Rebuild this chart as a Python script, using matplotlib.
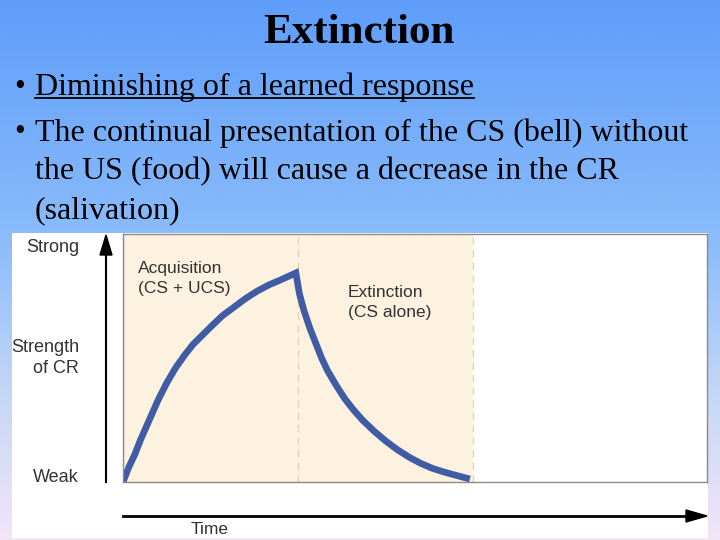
import numpy as np
import matplotlib
matplotlib.use('Agg')
import matplotlib.pyplot as plt
from matplotlib.patches import Rectangle
from matplotlib.colors import LinearSegmentedColormap

# curve (time 0-10, strength 0-1)
acq_time = [0.0, 0.05, 0.1, 0.2, 0.3, 0.45, 0.6, 0.75, 0.9, 1.05, 1.2, 1.35,
            1.5, 1.7, 1.9, 2.1, 2.3, 2.5, 2.7, 2.96]
acq_strength = [0.0, 0.03, 0.06, 0.11, 0.17, 0.25, 0.33, 0.40, 0.46, 0.51, 0.555, 0.59,
                0.625, 0.67, 0.705, 0.74, 0.77, 0.795, 0.815, 0.843]
ext_time = [2.96, 3.02, 3.1, 3.2, 3.3, 3.4, 3.5, 3.65, 3.8, 3.95, 4.1, 4.3,
            4.5, 4.7, 4.9, 5.1, 5.3, 5.5, 5.7, 5.94]
ext_strength = [0.843, 0.76, 0.69, 0.62, 0.56, 0.50, 0.45, 0.39, 0.335, 0.29, 0.25, 0.205,
                0.165, 0.13, 0.10, 0.075, 0.055, 0.04, 0.027, 0.012]
phase_edges = [0, 3, 6]
phase_names = ['Acquisition\n(CS + UCS)', 'Extinction\n(CS alone)']

W, H = 720, 540
fig = plt.figure(figsize=(7.2, 5.4), dpi=100)


def fx(px):
    return px / W


def fy(py):
    return 1 - py / H


# slide background gradient
bg = fig.add_axes([0, 0, 1, 1], zorder=-10)
cmap = LinearSegmentedColormap.from_list(
    'slide', [(0.0, '#5f9dfa'), (0.45, '#8cbdfa'), (0.75, '#c8d8f6'), (1.0, '#f3e5f8')])
bg.imshow(np.linspace(0, 1, 256).reshape(-1, 1), aspect='auto', cmap=cmap,
          extent=[0, 1, 0, 1], origin='upper')
bg.set_xlim(0, 1)
bg.set_ylim(0, 1)
bg.axis('off')

# white picture panel
fig.add_artist(Rectangle((fx(12), fy(538)), fx(708) - fx(12), fy(233) - fy(538),
                         transform=fig.transFigure, facecolor='white', edgecolor='none', zorder=-5))

# title and bullets
serif = 'Liberation Serif'
fig.text(fx(359), fy(33), 'Extinction', ha='center', va='center', family=serif,
         fontsize=31, fontweight='bold')
bullet_y = [87, 133, 172, 211]
fig.text(fx(14), fy(bullet_y[0]), '•', ha='left', va='center', family=serif, fontsize=22)
t1 = fig.text(fx(35), fy(bullet_y[0]), 'Diminishing of a learned response', ha='left', va='center',
              family=serif, fontsize=23)
fig.text(fx(14), fy(bullet_y[1]), '•', ha='left', va='center', family=serif, fontsize=22)
fig.text(fx(35), fy(bullet_y[1]), 'The continual presentation of the CS (bell) without',
         ha='left', va='center', family=serif, fontsize=23)
fig.text(fx(35), fy(bullet_y[2]), 'the US (food) will cause a decrease in the CR',
         ha='left', va='center', family=serif, fontsize=23)
fig.text(fx(35), fy(bullet_y[3]), '(salivation)', ha='left', va='center', family=serif, fontsize=23)

# underline for first bullet
fig.canvas.draw()
bb = t1.get_window_extent()
fig.add_artist(plt.Line2D([bb.x0 / W, bb.x1 / W], [fy(98), fy(98)],
                          transform=fig.transFigure, color='black', lw=1.3))

# chart
ax = fig.add_axes([fx(123), fy(482), fx(707) - fx(123), fy(234) - fy(482)])
ax.set_xlim(0, 10)
ax.set_ylim(0, 1)
for i in range(len(phase_edges) - 1):
    ax.axvspan(phase_edges[i], phase_edges[i + 1], color='#fdf1df', lw=0)
for e in phase_edges[1:]:
    ax.axvline(e, color='#e6d2ae', lw=0.9, ls=(0, (6, 4)))
ax.plot(acq_time + ext_time[1:], acq_strength + ext_strength[1:],
        color='#3f5ca4', lw=4.8, solid_capstyle='butt', solid_joinstyle='miter')
ax.set_xticks([])
ax.set_yticks([])
for s in ax.spines.values():
    s.set_color('#8a8a8a')
    s.set_linewidth(1)

sans = 'Liberation Sans'
ax.text(0.25, 0.89, phase_names[0], ha='left', va='top', family=sans, fontsize=12.5,
        color='#333333', linespacing=1.4)
ax.text(3.85, 0.795, phase_names[1], ha='left', va='top', family=sans, fontsize=12.5,
        color='#333333', linespacing=1.4)

# axis arrows and labels
fig.add_artist(plt.Line2D([fx(106), fx(106)], [fy(482), fy(250)],
                          transform=fig.transFigure, color='black', lw=1.5))
fig.add_artist(plt.Polygon([[fx(100), fy(255)], [fx(112), fy(255)], [fx(106), fy(235)]],
                           closed=True, transform=fig.transFigure, color='black'))
fig.add_artist(plt.Line2D([fx(123), fx(690)], [fy(516), fy(516)],
                          transform=fig.transFigure, color='black', lw=2))
fig.add_artist(plt.Polygon([[fx(686), fy(510)], [fx(686), fy(522)], [fx(707), fy(516)]],
                           closed=True, transform=fig.transFigure, color='black'))

fig.text(fx(79), fy(247), 'Strong', ha='right', va='center', family=sans, fontsize=13, color='#333333')
fig.text(fx(79), fy(358), 'Strength\nof CR', ha='right', va='center', multialignment='right',
         family=sans, fontsize=13, color='#333333', linespacing=1.25)
fig.text(fx(79), fy(478), 'Weak', ha='right', va='center', family=sans, fontsize=13, color='#333333')
fig.text(fx(210), fy(530), 'Time', ha='center', va='center', family=sans, fontsize=12.5, color='#333333')

fig.savefig('out.png', dpi=100)
